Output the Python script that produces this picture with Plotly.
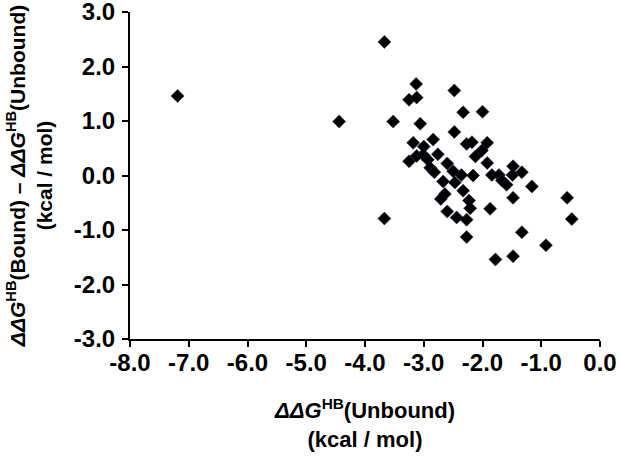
import plotly.graph_objects as go

# ΔΔG^HB(Unbound), kcal/mol
dg_unbound = [
    -7.19, -4.44, -3.67, -3.13, -3.25, -3.12, -2.48, -3.52, -3.06, -2.33,
    -2.00, -2.48, -3.18, -2.84, -3.00, -2.76, -3.25, -3.12, -3.01, -2.93,
    -2.60, -2.27, -2.18, -1.92, -2.01, -2.12, -1.92, -1.48, -1.33, -2.89,
    -2.82, -2.67, -2.50, -2.36, -2.47, -2.16, -2.33, -2.64, -2.71, -2.23,
    -2.21, -2.60, -2.44, -2.27, -1.87, -2.27, -3.67, -1.84, -1.72, -1.67,
    -1.59, -1.49, -1.16, -1.48, -1.33, -0.92, -1.48, -1.78, -0.56, -0.48,
]
# ΔΔG^HB(Bound) - ΔΔG^HB(Unbound), kcal/mol
dg_diff = [
    1.46, 0.99, 2.45, 1.68, 1.39, 1.43, 1.56, 0.99, 0.95, 1.16,
    1.17, 0.80, 0.60, 0.66, 0.53, 0.39, 0.26, 0.36, 0.38, 0.29,
    0.22, 0.58, 0.61, 0.60, 0.46, 0.35, 0.23, 0.17, 0.06, 0.14,
    0.06, -0.11, 0.08, 0.01, -0.13, 0.00, -0.28, -0.34, -0.43, -0.46,
    -0.60, -0.66, -0.77, -0.81, -0.61, -1.13, -0.79, 0.01, 0.01, -0.09,
    -0.17, 0.01, -0.20, -0.41, -1.04, -1.28, -1.48, -1.54, -0.41, -0.80,
]

x_tick_vals = [-8, -7, -6, -5, -4, -3, -2, -1, 0]
x_tick_text = ["-8.0", "-7.0", "-6.0", "-5.0", "-4.0", "-3.0", "-2.0", "-1.0", "0.0"]
y_tick_vals = [-3, -2, -1, 0, 1, 2, 3]
y_tick_text = ["-3.0", "-2.0", "-1.0", "0.0", "1.0", "2.0", "3.0"]

FONT = "Liberation Sans, Arial, sans-serif"

fig = go.Figure()
fig.add_trace(go.Scatter(
    x=dg_unbound, y=dg_diff, mode="markers",
    marker=dict(symbol="diamond", size=10, color="#000000",
                line=dict(width=0.6, color="#1c2b3f")),
    showlegend=False, cliponaxis=False,
))

axis_common = dict(
    showline=True, linecolor="#000000", linewidth=2,
    ticks="outside", ticklen=6, tickwidth=2, tickcolor="#000000",
    showgrid=False, zeroline=False, mirror=False, automargin=False,
    ticklabeloverflow="allow",
    tickfont=dict(family=FONT, size=24, color="#000000", weight="bold"),
)

fig.update_layout(
    width=620, height=461,
    margin=dict(l=130, r=20, t=12, b=122),
    paper_bgcolor="white", plot_bgcolor="white",
    xaxis=dict(
        range=[-8, 0], tickvals=x_tick_vals, ticktext=x_tick_text,
        ticklabelstandoff=-5,
        title=dict(
            text="<i>ΔΔG</i><sup>HB</sup>(Unbound)<br>(kcal / mol)",
            font=dict(family=FONT, size=22, color="#000000", weight="bold"),
            standoff=28,
        ),
        **axis_common,
    ),
    yaxis=dict(
        range=[-3, 3], tickvals=y_tick_vals, ticktext=y_tick_text,
        ticklabelstandoff=2,
        title=dict(
            text="<i>ΔΔG</i><sup>HB</sup>(Bound) – <i>ΔΔG</i><sup>HB</sup>(Unbound)<br>(kcal / mol)",
            font=dict(family=FONT, size=21, color="#000000", weight="bold"),
            standoff=15,
        ),
        **axis_common,
    ),
)

fig.write_html(
    "out.html",
    config={"displayModeBar": False},
    post_script="document.body.style.margin='0';document.body.style.overflow='hidden';",
)
